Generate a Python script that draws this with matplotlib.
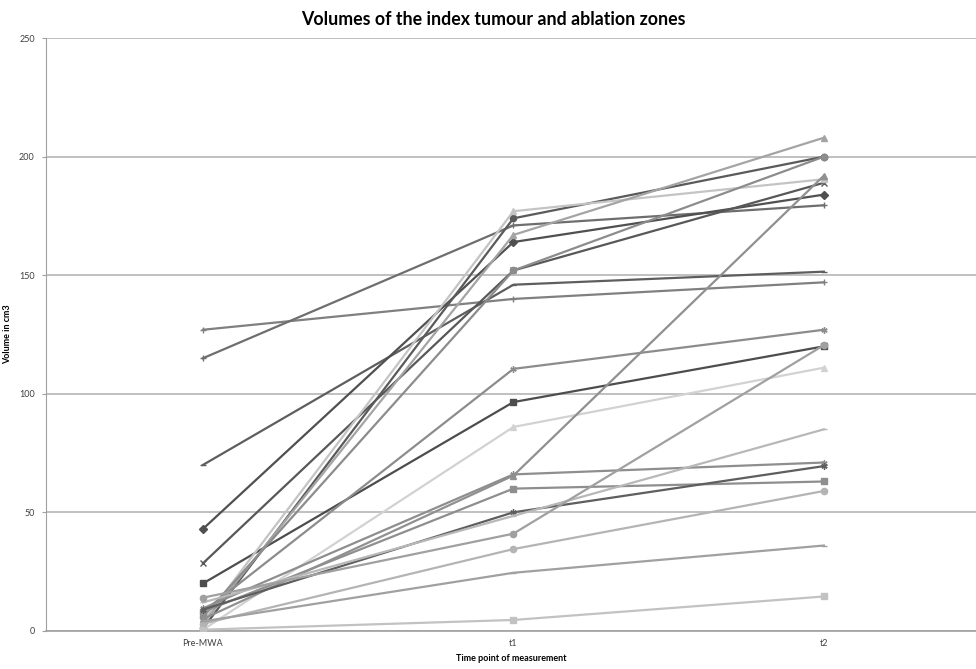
import matplotlib
matplotlib.use('Agg')
import matplotlib.pyplot as plt

plt.rcParams['font.family'] = ['Lato', 'DejaVu Sans']

# categories on the x axis
time_points = ['Pre-MWA', 't1', 't2']

# volumes (cm3) per patient
pre_mwa = [127, 115, 70, 43, 28.5, 20, 1, 4, 3, 6, 8, 0.5, 5, 9.5, 8, 9, 12, 14, 3, 4, 0.5]
t1 = [140, 171, 146, 164, 152, 96.5, 174, 177, 167, 152, 110.5, 86, 65.5, 66, 60, 50, 48.5, 41, 34.5, 24.5, 4.6]
t2 = [147, 179.5, 151.5, 184, 189, 120, 200, 190.5, 208, 200, 127, 111, 192, 71, 63, 69.5, 85, 120.5, 59, 36, 14.5]

# styles for each series
colors = ['#808080', '#6e6e6e', '#5e5e5e', '#505050', '#585858', '#4d4d4d', '#5a5a5a',
          '#c4c4c4', '#a4a4a4', '#8c8c8c', '#8c8c8c', '#d2d2d2', '#909090', '#8e8e8e',
          '#8e8e8e', '#5e5e5e', '#b8b8b8', '#a0a0a0', '#b4b4b4', '#a0a0a0', '#c2c2c2']
markers = ['+', '+', '_', 'D', 'x', 's', 'o', '^', '^', 'o', (6, 2, 0), '^', '^', (6, 2, 0),
           's', (6, 2, 0), '_', 'o', 'o', '_', 's']

fig = plt.figure(figsize=(9.76, 6.69), dpi=100)
ax = fig.add_axes([0.047, 0.057, 0.953, 0.886])

x = list(range(len(time_points)))
for i in range(len(pre_mwa)):
    ms = 4 if markers[i] == 'D' else 4.5
    ax.plot(x, [pre_mwa[i], t1[i], t2[i]], color=colors[i], linewidth=1.6,
            marker=markers[i], markersize=ms, markeredgewidth=1.0,
            markerfacecolor=colors[i], markeredgecolor=colors[i], zorder=3)

ax.set_xlim(-0.506, 2.49)
ax.set_ylim(0, 250)
ax.set_yticks([0, 50, 100, 150, 200, 250])
ax.set_xticks(x)
ax.set_xticklabels(time_points)
ax.grid(axis='y', color='#c0c0c0', linewidth=1.4, zorder=0)
ax.set_axisbelow(True)

for s in ['top', 'right']:
    ax.spines[s].set_visible(False)
ax.spines['left'].set_color('#a0a0a0')
ax.spines['bottom'].set_color('#a0a0a0')
ax.spines['bottom'].set_linewidth(1.2)
ax.tick_params(axis='both', labelsize=6.5, colors='#404040', length=0, pad=6)
ax.tick_params(axis='y', length=3, color='#a0a0a0', pad=5)

ax.set_ylabel('Volume in cm3', fontsize=6.5, fontweight='bold')
ax.yaxis.set_label_coords(-0.036, 0.5)
ax.set_xlabel('Time point of measurement', fontsize=6.5, fontweight='bold', labelpad=4)
fig.suptitle('Volumes of the index tumour and ablation zones', fontsize=12.8,
             fontweight='bold', y=0.983, x=0.505)

fig.savefig('out.png', dpi=100)
